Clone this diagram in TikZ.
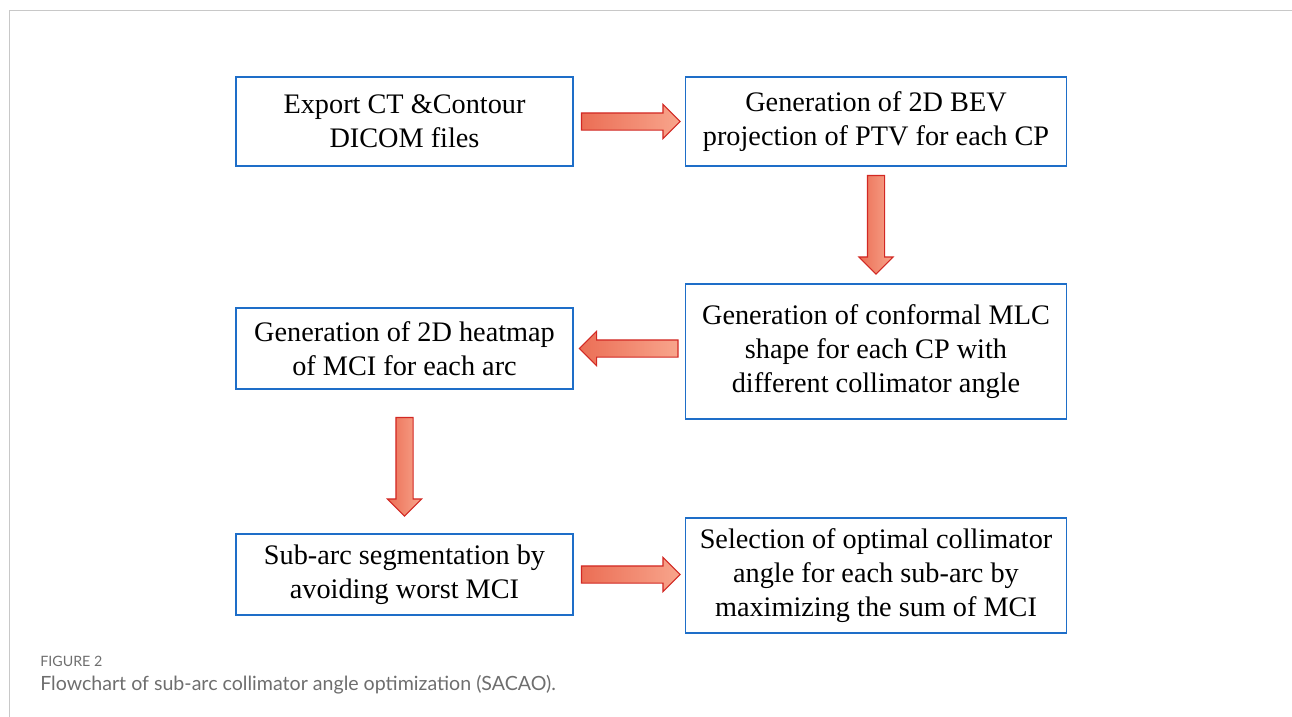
\documentclass[tikz,border=0pt]{standalone}
\usepackage{fontspec}
\setmainfont{Liberation Serif}
\newfontfamily\capfont{Lato}
\usepackage{xcolor}
\usetikzlibrary{shapes.arrows,calc}

\definecolor{boxblue}{RGB}{30,110,200}
\definecolor{arrowedge}{RGB}{210,40,35}
\definecolor{arrowdark}{RGB}{235,110,85}
\definecolor{arrowlight}{RGB}{248,165,140}
\definecolor{framegray}{RGB}{200,200,200}
\definecolor{capgray}{RGB}{110,110,110}

\begin{document}
\begin{tikzpicture}[x=0.75pt,y=-0.75pt,
    every node/.style={font=\fontsize{21.2}{25.8}\selectfont},
    stepbox/.style={rectangle,draw=boxblue,line width=1.2pt,fill=white,align=center,inner sep=2pt},
    blockarrow/.style={single arrow,draw=arrowedge,line width=0.8pt,minimum height=74pt,
        minimum width=25pt,inner sep=6pt,single arrow head extend=6.5pt,anchor=tail,
        left color=arrowdark,right color=arrowlight},
]
\useasboundingbox (0,0) rectangle (1292,717);
% outer panel
\draw[framegray,line width=0.9pt] (9.5,717) -- (9.5,10.5) -- (1292,10.5);

% boxes
\node[stepbox,minimum width=253pt,minimum height=67pt] (export) at (404.5,121.5)
    {Export CT \&Contour\\DICOM files};
\node[stepbox,minimum width=286pt,minimum height=67pt] (bev) at (876,121.5)
    {Generation of 2D BEV\\projection of PTV for each CP};
\node[stepbox,minimum width=286pt,minimum height=101pt] (mlc) at (876,351.5)
    {Generation of conformal MLC\\shape for each CP with\\different collimator angle};
\node[stepbox,minimum width=253pt,minimum height=61pt] (heatmap) at (404.5,348.5)
    {Generation of 2D heatmap\\of MCI for each arc};
\node[stepbox,minimum width=253pt,minimum height=61pt] (subarc) at (404.5,574.5)
    {Sub-arc segmentation by\\avoiding worst MCI};
\node[stepbox,minimum width=286pt,minimum height=86pt] (select) at (876,575.5)
    {Selection of optimal collimator\\angle for each sub-arc by\\maximizing the sum of MCI};

% block arrows between steps
\node[blockarrow] (a1) at ($(export.east)+(7,0)$) {};
\node[blockarrow,rotate=-90] (a2) at ($(bev.south)+(0,8)$) {};
\node[blockarrow,rotate=180] (a3) at ($(mlc.west|-heatmap)+(-6,0)$) {};
\node[blockarrow,rotate=-90] (a4) at ($(heatmap.south)+(0,27)$) {};
\node[blockarrow] (a5) at ($(subarc.east)+(7,0)$) {};

% caption
\node[anchor=west,inner sep=0pt,font=\capfont\fontsize{10.7}{12}\selectfont,text=capgray] (fig) at (40,661) {FIGURE 2};
\node[anchor=west,inner sep=0pt,font=\capfont\fontsize{14.7}{17}\selectfont,text=capgray] (cap) at (40,685)
    {Flowchart of sub-arc collimator angle optimization (SACAO).};
\end{tikzpicture}
\end{document}
